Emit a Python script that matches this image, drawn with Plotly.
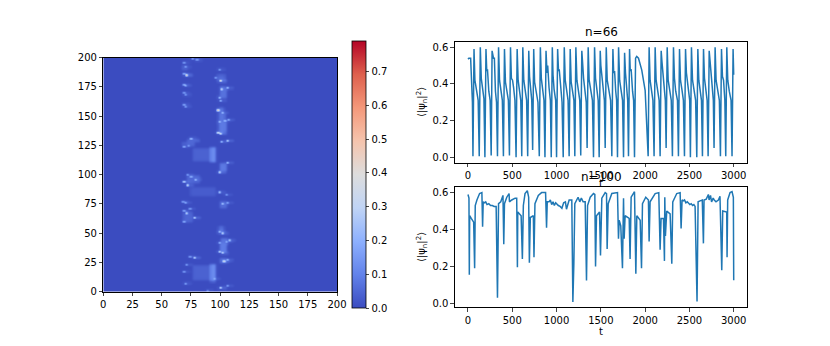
import numpy as np
import plotly.graph_objects as go

W, H = 830, 346
LINE = '#1f77b4'
coolwarm = [[0, '#3b4cc0'], [0.125, '#6282ea'], [0.25, '#8db0fe'], [0.375, '#c0d4f5'], [0.5, '#dddddd'],
            [0.625, '#f5c4ad'], [0.75, '#f4987a'], [0.875, '#de604d'], [1, '#b40426']]

# bright spots of the left panel
spot_col = [75, 79, 68, 69, 98, 70, 68, 99, 95, 100, 105, 68, 69, 68, 69, 98, 99, 68, 69, 97, 101, 106, 98, 103,
            97, 99, 105, 100, 74, 68, 72, 105, 98, 71, 74, 78, 68, 71, 98, 104, 67, 69, 101, 105, 73, 68, 70, 77,
            68, 98, 101, 98, 107, 104, 98, 101, 73, 77, 102, 105, 70, 68, 94, 69, 99, 105, 88]
spot_row = [199, 198, 196, 192, 190, 185, 186, 180, 183, 173, 174, 177, 176, 170, 168, 166, 163, 160, 158, 155, 153, 147, 145, 146,
            136, 135, 129, 128, 131, 124, 125, 110, 102, 100, 98, 96, 94, 91, 85, 83, 77, 76, 75, 76, 71, 69, 67, 63,
            60, 51, 50, 42, 44, 43, 34, 33, 30, 29, 26, 27, 23, 17, 11, 7, 3, 5, 1]
spot_val = [.32, .3, .25, .28, .3, .52, .3, .78, .3, .38, .42, .3, .3, .25, .28, .42, .38, .28, .3, .46, .38, .35, .4, .32,
            .55, .6, .52, .42, .35, .3, .25, .42, .38, .28, .3, .4, .48, .4, .3, .28, .28, .32, .42, .3, .28, .28, .35, .55,
            .3, .42, .36, .36, .3, .3, .55, .52, .28, .55, .42, .38, .3, .25, .3, .32, .58, .3, .22]

# faint patches: row range, column range, level
patch_r0 = [112, 111, 10, 9, 82, 34, 137, 103, 146, 166, 171, 50, 72, 25, 126, 190, 93, 60, 180, 40, 128, 150]
patch_r1 = [122, 123, 22, 23, 89, 41, 145, 109, 152, 172, 175, 55, 77, 28, 127, 193, 99, 67, 185, 45, 130, 157]
patch_c0 = [76, 91, 76, 91, 74, 99, 98, 99, 98, 99, 99, 98, 99, 99, 67, 67, 71, 68, 97, 100, 71, 98]
patch_c1 = [94, 95, 94, 95, 95, 104, 104, 104, 103, 104, 103, 102, 104, 104, 77, 71, 81, 75, 103, 105, 81, 102]
patch_val = [.04, .12, .04, .12, .03, .09, .085, .085, .075, .07, .07, .07, .06, .07, .05, .04, .05, .045, .055, .075, .05, .06]

t66 = [0, 10, 30, 42, 50, 56,
       68, 78, 95, 115, 127,
       139, 150, 165, 180, 191,
       203, 212, 220, 235, 250, 262,
       272, 288, 298, 310, 322, 333,
       345, 356, 372, 388, 400,
       412, 423, 438, 456, 468,
       480, 490, 503, 515, 530, 543,
       555, 566, 582, 596, 607,
       619, 630, 645, 662, 674,
       686, 695, 706, 720, 730,
       742, 752, 768, 790, 805,
       817, 828, 845, 858, 869,
       881, 892, 900, 915, 930, 940,
       952, 960, 972, 990, 1000,
       1012, 1022, 1030, 1045, 1062, 1075,
       1087, 1098, 1112, 1130, 1142,
       1154, 1165, 1180, 1196, 1206,
       1218, 1230, 1245, 1262, 1273,
       1285, 1292, 1305, 1320, 1335, 1345,
       1357, 1368, 1385, 1405, 1417,
       1429, 1440, 1455, 1470, 1481,
       1493, 1500, 1510, 1525, 1540, 1549,
       1561, 1572, 1590, 1610, 1624,
       1636, 1645, 1655, 1668, 1678, 1688,
       1700, 1712, 1728, 1745, 1756,
       1768, 1778, 1790, 1803, 1812,
       1824, 1832, 1842, 1858, 1870, 1880,
       1892, 1905, 1925, 1962, 2000, 2034,
       2045, 2056, 2070, 2088, 2101,
       2113, 2124, 2140, 2158, 2169,
       2181, 2190, 2200, 2215, 2228, 2237,
       2249, 2260, 2275, 2295, 2308,
       2320, 2331, 2345, 2365, 2376,
       2388, 2399, 2415, 2432, 2444,
       2456, 2466, 2480, 2492, 2503, 2511,
       2523, 2535, 2552, 2570, 2583,
       2595, 2606, 2620, 2636, 2647,
       2659, 2670, 2685, 2700, 2711,
       2723, 2732, 2745, 2760, 2770, 2778,
       2790, 2801, 2818, 2838, 2850,
       2862, 2873, 2885, 2900, 2910,
       2922, 2933, 2950, 2970, 2981,
       2993, 3000]
y66 = [.535, .54, .54, .33, .3, .005,
       .59, .42, .36, .31, .005,
       .6, .43, .37, .32, .0,
       .59, .47, .48, .36, .31, .01,
       .58, .54, .54, .36, .3, .005,
       .6, .42, .37, .31, .005,
       .59, .41, .36, .31, .01,
       .6, .43, .42, .38, .31, .0,
       .59, .42, .36, .31, .005,
       .6, .42, .37, .31, .005,
       .58, .44, .38, .31, .04,
       .59, .41, .36, .3, .005,
       .6, .43, .37, .31, .0,
       .58, .46, .5, .38, .31, .0,
       .6, .45, .37, .31, .0,
       .59, .47, .48, .37, .3, .0,
       .6, .42, .36, .31, .005,
       .59, .41, .37, .31, .005,
       .6, .42, .36, .31, .01,
       .58, .53, .43, .37, .3, .05,
       .6, .42, .36, .31, .0,
       .6, .43, .37, .31, .0,
       .58, .5, .45, .36, .31, .05,
       .6, .42, .36, .31, .005,
       .59, .46, .47, .36, .31, .0,
       .6, .42, .36, .31, .0,
       .57, .46, .37, .31, .005,
       .59, .47, .48, .36, .31, .0,
       .54, .55, .54, .475, .365, .005,
       .6, .42, .37, .31, .005,
       .6, .42, .36, .31, .005,
       .58, .52, .47, .37, .31, .05,
       .6, .42, .36, .31, .005,
       .6, .43, .36, .31, .005,
       .59, .42, .37, .31, .005,
       .59, .46, .4, .36, .31, .0,
       .6, .42, .37, .31, .0,
       .59, .42, .36, .31, .005,
       .59, .43, .36, .31, .005,
       .58, .53, .44, .36, .31, .05,
       .6, .42, .36, .31, .005,
       .59, .44, .42, .31, .005,
       .6, .42, .36, .31, .005,
       .59, .45]

t100 = [0, 11, 15, 19, 37, 64, 75, 82, 101, 131, 157, 165, 172, 185, 200, 215, 235, 255, 275, 295, 318, 333, 345, 370, 395,
        404, 412, 438, 464, 468, 494, 532, 550, 558, 562, 600, 614, 625, 644, 670, 685, 693, 704, 738, 745, 756, 794, 831,
        876, 887, 895, 915, 930, 945, 960, 975, 990, 1005, 1020, 1040, 1060, 1080, 1100, 1112, 1142, 1172, 1184, 1195, 1206,
        1243, 1262, 1280, 1300, 1323, 1338, 1350, 1380, 1417, 1432, 1440, 1451, 1485, 1496, 1511, 1549, 1564, 1571, 1583,
        1624, 1688, 1699, 1707, 1725, 1744, 1756, 1763, 1774, 1820, 1830, 1842, 1880, 1895, 1906, 1944, 1959, 1970, 2007,
        2037, 2045, 2056, 2113, 2154, 2169, 2180, 2207, 2218, 2222, 2229, 2244, 2282, 2301, 2312, 2357, 2395, 2406, 2417,
        2432, 2445, 2460, 2475, 2490, 2505, 2520, 2535, 2550, 2564, 2586, 2598, 2620, 2645, 2658, 2665, 2690, 2714, 2722,
        2738, 2750, 2768, 2780, 2800, 2827, 2845, 2865, 2876, 2921, 2925, 2932, 2959, 2981, 2996, 3000]
y100 = [.59, .57, .155, .475, .46, .44, .19, .53, .56, .595, .6, .415, .55, .545, .55, .535, .54, .53, .53, .525, .525, .03, .54, .55, .585,
        .32, .54, .575, .595, .55, .56, .57, .57, .195, .495, .475, .24, .53, .595, .61, .575, .22, .465, .475, .25, .54, .585, .6,
        .6, .41, .55, .55, .56, .535, .55, .53, .545, .535, .53, .525, .515, .545, .55, .51, .56, .56, .007, .21, .54,
        .575, .55, .57, .55, .55, .124, .53, .575, .595, .59, .2, .475, .495, .26, .57, .6, .595, .295, .54,
        .595, .6, .35, .45, .42, .19, .57, .35, .475, .46, .24, .575, .605, .16, .475, .45, .19, .54, .575,
        .56, .335, .55, .595, .6, .29, .46, .46, .23, .575, .365, .5, .485, .215, .55, .595, .6, .405, .56,
        .555, .56, .545, .55, .54, .535, .54, .53, .535, .525, .01, .55, .555, .56, .325, .56, .565, .59, .56,
        .585, .55, .57, .56, .55, .56, .58, .18, .5, .495, .25, .56, .6, .605, .575, .125]


def soften(a):
    # small box blur, twice, so the patch edges fade out
    for _ in range(2):
        b = a.copy()
        for dr, dc in [(0, 1), (0, -1), (1, 0), (-1, 0)]:
            b += np.roll(np.roll(a, dr, axis=0), dc, axis=1)
        a = b / 5
    return a


# rebuild the 200x200 field from the patches and spots
z = np.zeros((200, 200))
for r0, r1, c0, c1, v in zip(patch_r0, patch_r1, patch_c0, patch_c1, patch_val):
    z[r0:r1 + 1, c0:c1 + 1] = np.maximum(z[r0:r1 + 1, c0:c1 + 1], v)
for c, r, v in zip(spot_col, spot_row, spot_val):
    # faint glow around each spot, leaning right like the streaks in the picture
    z[r, c - 1:c + 6] = np.maximum(z[r, c - 1:c + 6], v * 0.2)
z = soften(z)
for c, r, v in zip(spot_col, spot_row, spot_val):
    z[r, c] = v
    z[r, c + 1] = max(z[r, c + 1], v * 0.8)
# pad with a zero border so the smoothed image runs past the frame and leaves no pale rim
z = np.pad(z, 3)


def fx(a, b):
    return [a / W, b / W]


def fy(top, bottom):
    return [1 - bottom / H, 1 - top / H]


fig = go.Figure()
fig.add_trace(go.Heatmap(z=z, x0=-2.5, dx=1, y0=-2.5, dy=1, zmin=0, zmax=0.79, colorscale=coolwarm, zsmooth='best',
                         xaxis='x', yaxis='y',
                         colorbar=dict(x=352 / W, xanchor='left', xpad=0, ypad=0, thickness=14, len=267 / H, y=1 - 308 / H,
                                       yanchor='bottom', tick0=0, dtick=0.1, tickformat='.1f', ticks='outside', ticklen=3.5,
                                       tickwidth=0.8, outlinewidth=0.8, outlinecolor='black',
                                       tickfont=dict(size=10))))
fig.add_trace(go.Scatter(x=t66, y=y66, mode='lines', line=dict(color=LINE, width=1.5), xaxis='x2', yaxis='y2'))
fig.add_trace(go.Scatter(x=t100, y=y100, mode='lines', line=dict(color=LINE, width=1.5), xaxis='x3', yaxis='y3'))

frame = dict(showline=True, mirror=True, linecolor='black', linewidth=0.8, ticks='outside', ticklen=3.5, tickwidth=0.8,
             showgrid=False, zeroline=False, automargin=False, tickfont=dict(size=10))
ylabel = '⟨|ψ<sub>n</sub>|<sup>2</sup>⟩'


def note(text, px, py, size=10, angle=0):
    return dict(text=text, x=px / W, y=1 - py / H, xref='paper', yref='paper', xanchor='center', yanchor='middle',
                showarrow=False, textangle=angle, font=dict(size=size))


fig.update_layout(
    width=W, height=H, margin=dict(l=0, r=0, t=0, b=0), showlegend=False, plot_bgcolor='white', paper_bgcolor='white',
    font=dict(family='DejaVu Sans', color='black', size=10),
    xaxis=dict(frame, domain=fx(103.3, 337), range=[0, 200], tick0=0, dtick=25, anchor='y'),
    yaxis=dict(frame, domain=fy(57.7, 291.7), range=[0, 200], tick0=0, dtick=25, anchor='x'),
    xaxis2=dict(frame, domain=fx(454.7, 747), range=[-150, 3150], tick0=0, dtick=500, anchor='y2'),
    yaxis2=dict(frame, domain=fy(41.7, 162.7), range=[-0.03, 0.63], tick0=0, dtick=0.2, tickformat='.1f', anchor='x2'),
    xaxis3=dict(frame, domain=fx(454.7, 747), range=[-150, 3150], tick0=0, dtick=500, anchor='y3'),
    yaxis3=dict(frame, domain=fy(186.7, 307.4), range=[-0.022, 0.632], tick0=0, dtick=0.2, tickformat='.1f', anchor='x3'),
    annotations=[
        note('n=66', 601, 32, 12),
        note('n=100', 601, 177, 12),
        note('t', 601, 184),
        note('t', 601, 331),
        note(ylabel, 422, 102, 10, -90),
        note(ylabel, 422, 247, 10, -90),
    ],
)

fig.write_html("out.html", config=dict(displayModeBar=False), post_script="document.body.style.margin='0';")
